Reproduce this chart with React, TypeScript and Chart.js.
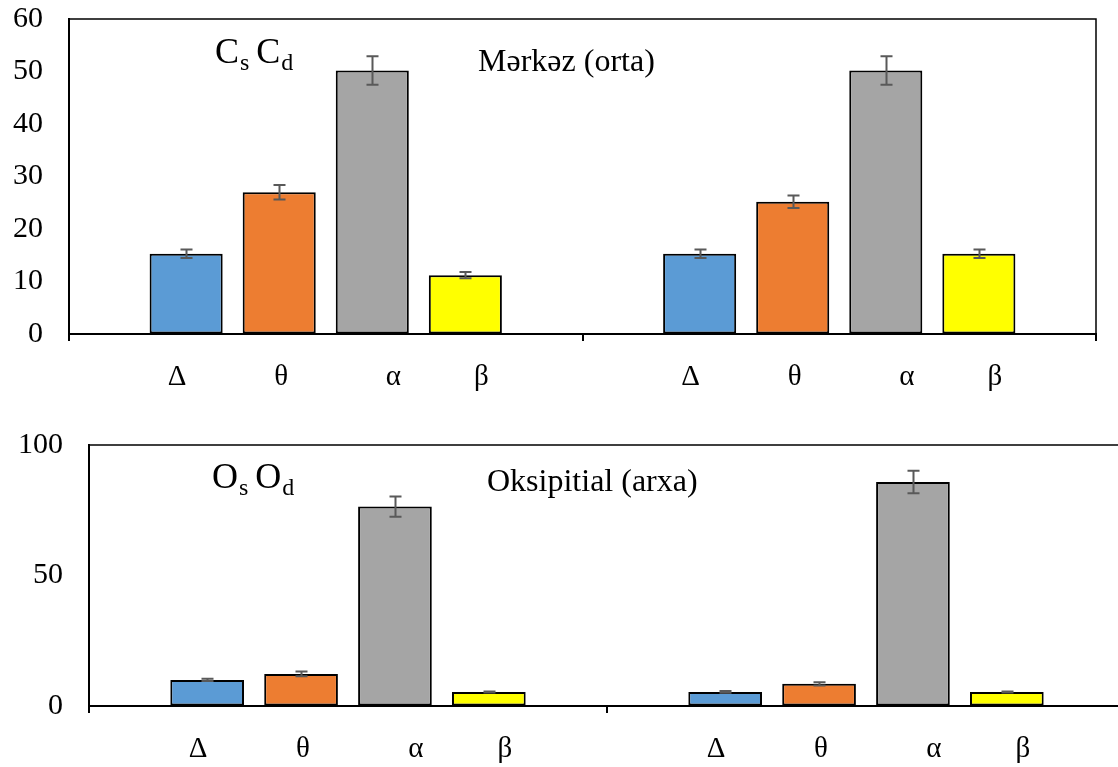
import React, { useEffect, useRef } from 'react';
import { Chart, registerables } from 'chart.js';

Chart.register(...registerables);

// ---------- data ----------
const hemispheres = ['s', 'd'];
const bands = ['Δ', 'θ', 'α', 'β'];
const bandColors = ['#5B9BD5', '#ED7D31', '#A5A5A5', '#FFFF00'];

const centralTitle = 'Mərkəz (orta)';
const centralLead = 'C';
const centralLeft = [15.3, 27.0, 50.2, 11.2];
const centralRight = [15.3, 25.2, 50.2, 15.3];
const centralLeftErr = [0.8, 1.4, 2.7, 0.6];
const centralRightErr = [0.8, 1.2, 2.7, 0.8];
const centralTicks = [0, 10, 20, 30, 40, 50, 60];

const occipitalTitle = 'Oksipitial (arxa)';
const occipitalLead = 'O';
const occipitalLeft = [10.0, 12.3, 76.4, 5.4];
const occipitalRight = [5.4, 8.5, 85.8, 5.4];
const occipitalLeftErr = [0.4, 0.9, 3.9, 0.2];
const occipitalRightErr = [0.3, 0.6, 4.3, 0.2];
const occipitalTicks = [0, 50, 100];

const FONT = "'Liberation Serif', 'Times New Roman', serif";

// ---------- plugin ----------
const panelPlugin = {
  id: 'panel',
  afterDatasetsDraw(chart: any) {
    const { ctx, scales } = chart;
    const y = scales.y;
    ctx.save();
    ctx.strokeStyle = '#595959';
    ctx.lineWidth = 2;
    chart.data.datasets.forEach((ds: any, i: number) => {
      const meta = chart.getDatasetMeta(i);
      meta.data.forEach((bar: any, j: number) => {
        const v = ds.data[j];
        const e = ds.errors[j];
        const x = Math.round(bar.x) + 0.5;
        const y1 = y.getPixelForValue(v + e);
        const y2 = y.getPixelForValue(v - e);
        ctx.beginPath();
        ctx.moveTo(x, y1);
        ctx.lineTo(x, y2);
        ctx.moveTo(x - 6, y1);
        ctx.lineTo(x + 6, y1);
        ctx.moveTo(x - 6, y2);
        ctx.lineTo(x + 6, y2);
        ctx.stroke();
      });
    });
    ctx.restore();
  },
  afterDraw(chart: any, _args: any, opts: any) {
    const { ctx, chartArea: a } = chart;
    ctx.save();
    // plot frame (top + right)
    ctx.strokeStyle = '#000';
    ctx.lineWidth = 1.5;
    ctx.beginPath();
    ctx.moveTo(a.left, a.top);
    ctx.lineTo(a.right, a.top);
    ctx.lineTo(a.right, a.bottom);
    ctx.stroke();

    // band labels under each bar
    ctx.fillStyle = '#000';
    ctx.textAlign = 'center';
    ctx.textBaseline = 'alphabetic';
    ctx.font = `29px ${FONT}`;
    chart.data.datasets.forEach((ds: any, i: number) => {
      const meta = chart.getDatasetMeta(i);
      meta.data.forEach((bar: any) => {
        ctx.fillText(ds.label, bar.x + opts.labelShift[i], a.bottom + opts.labelDy);
      });
    });

    // lead annotation e.g. C_s C_d
    ctx.textAlign = 'left';
    let x = a.left + opts.leadX;
    const base = a.top + opts.leadY;
    opts.subs.forEach((sub: string, k: number) => {
      ctx.font = `36px ${FONT}`;
      ctx.fillText(opts.lead, x, base);
      x += ctx.measureText(opts.lead).width + 1;
      ctx.font = `24px ${FONT}`;
      ctx.fillText(sub, x, base + 7);
      x += ctx.measureText(sub).width;
      if (k < opts.subs.length - 1) x += 7;
    });

    // region title
    ctx.font = `32px ${FONT}`;
    ctx.fillText(opts.title, a.left + opts.titleX, a.top + opts.titleY);
    ctx.restore();
  },
};

function makeConfig(p: any) {
  const datasets = bands.map((b, i) => ({
    label: b,
    data: [p.left[i], p.right[i]],
    errors: [p.leftErr[i], p.rightErr[i]],
    backgroundColor: bandColors[i],
    borderColor: '#000',
    borderWidth: 2,
    borderSkipped: false,
    categoryPercentage: 0.725,
    barPercentage: 0.785,
  }));
  const ticks = p.ticks;
  return {
    type: 'bar',
    data: { labels: hemispheres, datasets },
    plugins: [panelPlugin],
    options: {
      responsive: false,
      animation: false,
      devicePixelRatio: 1,
      layout: { padding: { top: p.padTop, right: p.padRight, bottom: 0, left: 0 } },
      plugins: {
        legend: { display: false },
        tooltip: { enabled: false },
        panel: {
          labelShift: [-9, 2, 21, 16],
          labelDy: 51,
          lead: p.lead,
          subs: hemispheres,
          leadX: p.leadX,
          leadY: p.leadY,
          title: p.title,
          titleX: p.titleX,
          titleY: p.titleY,
        },
      },
      scales: {
        x: {
          type: 'category',
          offset: true,
          grid: {
            display: true,
            drawOnChartArea: false,
            drawTicks: true,
            tickLength: 7,
            offset: true,
            color: '#000',
            lineWidth: 2,
          },
          border: { display: true, color: '#000', width: 2 },
          ticks: { display: false },
          afterFit: (s: any) => {
            s.height = p.xHeight;
          },
        },
        y: {
          min: 0,
          max: ticks[ticks.length - 1],
          afterBuildTicks: (s: any) => {
            s.ticks = ticks.map((v: number) => ({ value: v }));
          },
          grid: {
            display: true,
            drawOnChartArea: false,
            drawTicks: true,
            tickLength: 26,
            tickColor: 'rgba(0,0,0,0)',
            color: 'rgba(0,0,0,0)',
          },
          border: { display: true, color: '#000', width: 2 },
          ticks: {
            color: '#000',
            font: { family: FONT, size: 30 },
            padding: 0,
          },
          afterFit: (s: any) => {
            s.width = p.yWidth;
          },
        },
      },
    },
  };
}

function Panel({ params, left, top, width, height }: any) {
  const ref = useRef<HTMLCanvasElement | null>(null);
  useEffect(() => {
    if (!ref.current) return;
    const chart = new Chart(ref.current, makeConfig(params) as any);
    return () => chart.destroy();
  }, []);
  return (
    <canvas
      ref={ref}
      width={width}
      height={height}
      style={{ position: 'absolute', left, top, width: `${width}px`, height: `${height}px` }}
    />
  );
}

export default function App() {
  const central = {
    left: centralLeft,
    right: centralRight,
    leftErr: centralLeftErr,
    rightErr: centralRightErr,
    ticks: centralTicks,
    padTop: 19,
    padRight: 22,
    yWidth: 69,
    xHeight: 66,
    lead: centralLead,
    leadX: 146,
    leadY: 44,
    title: centralTitle,
    titleX: 409,
    titleY: 52,
  };
  const occipital = {
    left: occipitalLeft,
    right: occipitalRight,
    leftErr: occipitalLeftErr,
    rightErr: occipitalRightErr,
    ticks: occipitalTicks,
    padTop: 35,
    padRight: 25,
    yWidth: 89,
    xHeight: 61,
    lead: occipitalLead,
    leadX: 123,
    leadY: 43,
    title: occipitalTitle,
    titleX: 398,
    titleY: 46,
  };
  return (
    <div
      style={{
        position: 'fixed',
        left: 0,
        top: 0,
        width: 1118,
        height: 767,
        overflow: 'hidden',
        background: '#fff',
      }}
    >
      <Panel params={central} left={0} top={0} width={1118} height={400} />
      <Panel params={occipital} left={0} top={410} width={1150} height={357} />
    </div>
  );
}
